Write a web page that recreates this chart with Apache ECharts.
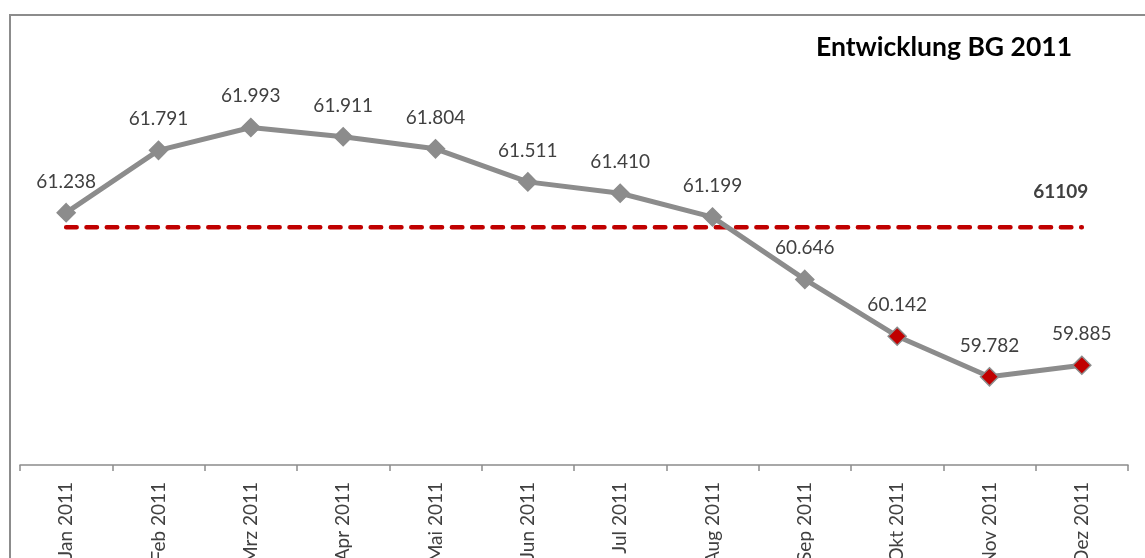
<!DOCTYPE html>
<html><head><meta charset="utf-8">
<script src="https://cdn.jsdelivr.net/npm/echarts@6/dist/echarts.min.js"></script>
<style>html,body{margin:0;padding:0;background:#fff}#c{width:1145px;height:558px}</style>
</head><body><div id="c"></div>
<script>
const categories = ['Jan 2011','Feb 2011','Mrz 2011','Apr 2011','Mai 2011','Jun 2011','Jul 2011','Aug 2011','Sep 2011','Okt 2011','Nov 2011','Dez 2011'];
const bgValues = [61238,61791,61993,61911,61804,61511,61410,61199,60646,60142,59782,59885];
const targetValue = 61109;
const highlightFrom = 9;
const titleText = 'Entwicklung BG 2011';

function fmt(v){ return String(v).replace(/\B(?=(\d{3})+(?!\d))/g,'.'); }
const chart = echarts.init(document.getElementById('c'));
const ff = 'Lato, "Liberation Sans", sans-serif';
const last = categories.length - 1;
chart.setOption({
  animation:false,
  backgroundColor:'#fff',
  title:{text:titleText,right:68,top:29,textStyle:{fontFamily:ff,fontSize:26.5,fontWeight:'bold',color:'#000'}},
  graphic:[{type:'rect',shape:{x:10,y:15,width:1300,height:700},style:{fill:'none',stroke:'#8c8c8c',lineWidth:2},silent:true}],
  grid:{left:20,right:17,top:14,bottom:93,containLabel:false,outerBoundsMode:'none'},
  xAxis:{type:'category',data:categories,boundaryGap:true,
    axisLine:{lineStyle:{color:'#8c8c8c',width:1.5}},
    axisTick:{show:true,length:6,lineStyle:{color:'#8c8c8c',width:1.5}},
    axisLabel:{rotate:90,margin:17,fontFamily:ff,fontSize:19,color:'#404040'}},
  yAxis:{type:'value',min:59000,max:63000,show:false,splitLine:{show:false}},
  series:[
    {type:'line',data:categories.map(()=>targetValue),symbol:'circle',symbolSize:1,showSymbol:true,
      itemStyle:{opacity:0},
      lineStyle:{color:'#c00000',width:4.5,type:[10.5,9.8],cap:'round'},z:1,
      label:{show:true,position:'top',distance:0,formatter:p=>p.dataIndex===last?String(targetValue):'',
        offset:[-21,-25],fontFamily:ff,fontSize:19,fontWeight:'bold',color:'#404040',opacity:1}},
    {type:'line',data:bgValues.map((v,i)=>({value:v,itemStyle:i>=highlightFrom?{color:'#c00000'}:undefined})),
      symbol:'diamond',symbolSize:18,
      lineStyle:{color:'#8c8c8c',width:5},
      itemStyle:{color:'#8c8c8c',borderColor:'#8c8c8c',borderWidth:1.5},
      z:2,
      label:{show:true,position:'top',distance:12,formatter:p=>fmt(p.value),fontFamily:ff,fontSize:19,color:'#404040'}}
  ]
});
</script></body></html>
